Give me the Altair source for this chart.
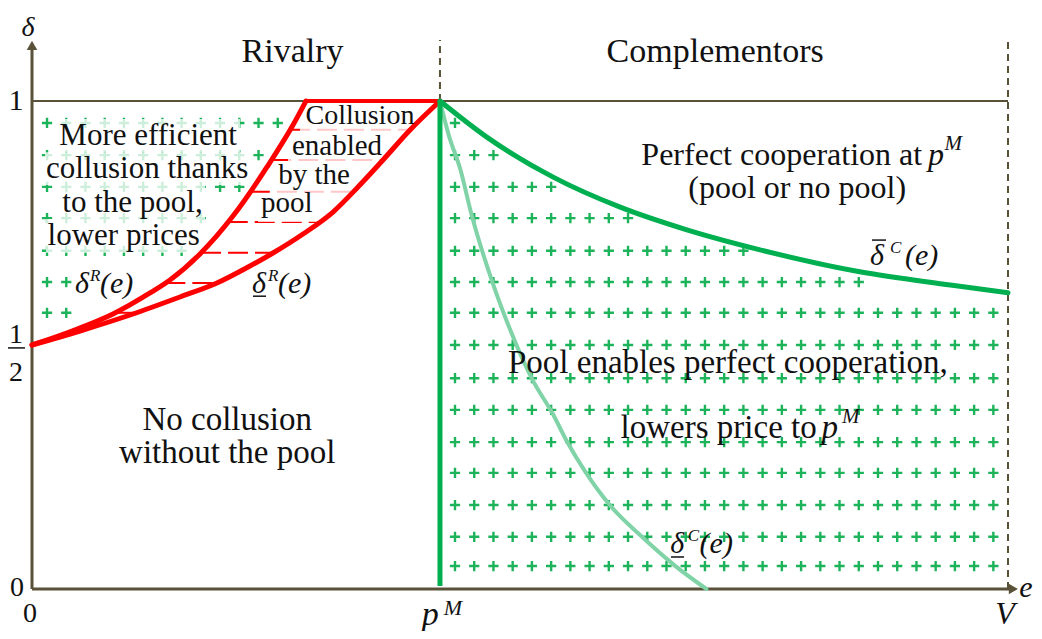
import altair as alt
import pandas as pd
import numpy as np

# ---------------- data (e on [0,V], delta on [0,1]) ----------------
PM = 0.418      # p^M
V = 1.0

rivalry_upper_e = [0, 0.041, 0.083, 0.1209, 0.1414, 0.1721, 0.2059, 0.2408, 0.2674, 0.2807]
rivalry_upper_d = [0.5, 0.5287, 0.5635, 0.6066, 0.6332, 0.6865, 0.7643, 0.8648, 0.9508, 1.0]
rivalry_lower_e = [0, 0.0492, 0.1035, 0.1516, 0.1895, 0.2234, 0.2469, 0.2777, 0.3084,
                   0.3340, 0.3596, 0.3873, 0.418]
rivalry_lower_d = [0.5, 0.5287, 0.5635, 0.5984, 0.6270, 0.6619, 0.6885, 0.7275, 0.7725,
                   0.8238, 0.8791, 0.9406, 1.0]
comp_upper_e = [0.418, 0.466, 0.534, 0.602, 0.671, 0.746, 0.848, 0.941, 1.0]
comp_upper_d = [1.0, 0.926, 0.844, 0.783, 0.736, 0.695, 0.650, 0.623, 0.607]
comp_lower_e = [0.418, 0.427, 0.439, 0.450, 0.471, 0.488, 0.513, 0.533, 0.549,
                0.567, 0.592, 0.625, 0.658, 0.691]
comp_lower_d = [1.0, 0.930, 0.859, 0.770, 0.633, 0.541, 0.428, 0.361, 0.299,
                0.240, 0.172, 0.107, 0.049, 0.0]

plus_rows_d = [0.955, 0.889, 0.824, 0.760, 0.693, 0.629, 0.566, 0.5, 0.432,
               0.367, 0.301, 0.238, 0.172, 0.107, 0.047]
left_counts = [13, 12, 11, 9, 8, 2, 2]
right_counts = [1, 3, 6, 10, 16, 22, 29, 29, 29, 29, 29, 29, 29, 29, 29]
plus_step = 0.0197
left_start = 0.0154
right_start = 0.4334

dash_rows_d = [0.941, 0.879, 0.814, 0.752, 0.689, 0.627, 0.566]

# ---------------- styles ----------------
RED = "#FF0000"
DKGREEN = "#00B050"
LTGREEN = "#7FD3A6"
PLUS = "#1DB35A"
AXIS = "#595238"
INK = "#111111"
FONT = "Liberation Serif"

xs = alt.Scale(domain=[-0.02459, 1.02664], nice=False, zero=False)
ys = alt.Scale(domain=[-0.08607, 1.19057], nice=False, zero=False)


def X(f):
    return alt.X(f, type="quantitative", scale=xs, axis=None)


def Y(f):
    return alt.Y(f, type="quantitative", scale=ys, axis=None)


# ---------------- plus pattern ----------------
prow = []
for d, n in zip(plus_rows_d, left_counts):
    for k in range(n):
        prow.append({"e": left_start + k * plus_step, "d": d})
for d, n in zip(plus_rows_d, right_counts):
    for k in range(n):
        prow.append({"e": right_start + k * plus_step, "d": d})
plus_df = pd.DataFrame(prow)
pluses = alt.Chart(plus_df).mark_point(
    shape="M-1,0L1,0M0,-1L0,1", filled=False, size=105, strokeWidth=2.4,
    color=PLUS, opacity=1
).encode(x=X("e"), y=Y("d"))

# ---------------- red dashes between the rivalry curves ----------------
dash_df = pd.DataFrame({
    "d": dash_rows_d,
    "e1": np.interp(dash_rows_d, rivalry_upper_d, rivalry_upper_e),
    "e2": np.interp(dash_rows_d, rivalry_lower_d, rivalry_lower_e),
})
dashes = alt.Chart(dash_df).mark_rule(
    color=RED, strokeWidth=2, strokeDash=[20, 7]
).encode(x=X("e1"), x2="e2", y=Y("d"))

# ---------------- semi-transparent label boxes ----------------
box_df = pd.DataFrame({
    "e1": [0.0246, 0.0133, 0.0297, 0.0143, 0.2746, 0.2623, 0.2490, 0.2316],
    "e2": [0.2131, 0.2223, 0.1773, 0.1742, 0.3975, 0.3627, 0.3300, 0.2930],
    "d1": [0.963, 0.895, 0.828, 0.758, 0.994, 0.932, 0.873, 0.811],
    "d2": [0.895, 0.828, 0.758, 0.689, 0.932, 0.873, 0.811, 0.752],
})
boxes = alt.Chart(box_df).mark_rect(color="white", opacity=0.78).encode(
    x=X("e1"), x2="e2", y=Y("d1"), y2="d2")

# ---------------- axes and frame lines ----------------
axis_df = pd.DataFrame({
    "e1": [0, 0, 0],
    "e2": [0, 1.006, V],
    "d1": [0, 0, 1],
    "d2": [1.112, 0, 1],
    "w": [3, 3, 2],
})
axes = alt.Chart(axis_df).mark_rule(color=AXIS).encode(
    x=X("e1"), x2="e2", y=Y("d1"), y2="d2",
    strokeWidth=alt.StrokeWidth("w:Q", scale=None))

vdash_df = pd.DataFrame({"e": [PM, V], "d1": [1.0, 0.0], "d2": [1.125, 1.125]})
vdashes = alt.Chart(vdash_df).mark_rule(
    color=AXIS, strokeWidth=2, strokeDash=[7, 5]
).encode(x=X("e"), y=Y("d1"), y2="d2")

arrow_up = alt.Chart(pd.DataFrame({"e": [0], "d": [1.114]})).mark_point(
    shape="triangle-up", filled=True, size=110, color=AXIS, opacity=1
).encode(x=X("e"), y=Y("d"))
arrow_right = alt.Chart(pd.DataFrame({"e": [1.0055], "d": [0]})).mark_point(
    shape="triangle-right", filled=True, size=110, color=AXIS, opacity=1
).encode(x=X("e"), y=Y("d"))


# ---------------- curves ----------------
def curve(es, ds, color, width):
    df = pd.DataFrame({"e": es, "d": ds, "i": range(len(es))})
    return alt.Chart(df).mark_line(
        color=color, strokeWidth=width, interpolate="monotone", strokeCap="round"
    ).encode(x=X("e"), y=Y("d"), order="i:Q")


red_up = curve(rivalry_upper_e, rivalry_upper_d, RED, 5)
red_low = curve(rivalry_lower_e, rivalry_lower_d, RED, 5)
red_top = alt.Chart(pd.DataFrame({"e1": [rivalry_upper_e[-1]], "e2": [PM], "d": [1.0]})).mark_rule(
    color=RED, strokeWidth=4).encode(x=X("e1"), x2="e2", y=Y("d"))
lt_green = curve(comp_lower_e, comp_lower_d, LTGREEN, 4)
dk_green = curve(comp_upper_e, comp_upper_d, DKGREEN, 5)
vert_green = alt.Chart(pd.DataFrame({"e": [PM], "d1": [0.006], "d2": [1.0]})).mark_rule(
    color=DKGREEN, strokeWidth=5).encode(x=X("e"), y=Y("d1"), y2="d2")

# typographic bars: fraction bar of 1/2, under/over-bars of the delta symbols
bars_df = pd.DataFrame({
    "e1": [-0.0266, 0.2264, 0.6547, 0.8607],
    "e2": [-0.0072, 0.2398, 0.6681, 0.8750],
    "d": [0.494, 0.600, 0.0656, 0.715],
})
bars = alt.Chart(bars_df).mark_rule(color=INK, strokeWidth=1.5).encode(
    x=X("e1"), x2="e2", y=Y("d"))

# ---------------- texts ----------------
texts = [
    # (e, delta, text, size, group)  group: c=center, r=right, li=left italic, ci=center italic
    (0.267, 1.080, "Rivalry", 34, "c"),
    (0.700, 1.080, "Complementors", 34, "c"),
    (0.119, 0.910, "More efficient", 31, "c"),
    (0.118, 0.842, "collusion thanks", 31, "c"),
    (0.103, 0.773, "to the pool,", 31, "c"),
    (0.094, 0.705, "lower prices", 31, "c"),
    (0.336, 0.953, "Collusion", 28, "c"),
    (0.3125, 0.889, "enabled", 29, "c"),
    (0.289, 0.830, "by the", 29, "c"),
    (0.261, 0.773, "pool", 29, "c"),
    (0.200, 0.326, "No collusion", 33, "c"),
    (0.200, 0.258, "without the pool", 33, "c"),
    (0.912, 0.869, "Perfect cooperation at", 32, "r"),
    (0.918, 0.869, "p", 32, "li"),
    (0.935, 0.900, "M", 21, "li"),
    (0.784, 0.801, "(pool or no pool)", 32, "c"),
    (0.713, 0.443, "Pool enables perfect cooperation,", 33, "c"),
    (0.804, 0.309, "lowers price to", 33, "r"),
    (0.809, 0.309, "p", 33, "li"),
    (0.830, 0.340, "M", 21, "li"),
    # curve labels
    (0.044, 0.607, "δ", 30, "li"),
    (0.0594, 0.631, "R", 17, "li"),
    (0.0697, 0.607, "(e)", 30, "li"),
    (0.2254, 0.607, "δ", 30, "li"),
    (0.2418, 0.631, "R", 17, "li"),
    (0.2520, 0.607, "(e)", 30, "li"),
    (0.8586, 0.664, "δ", 30, "li"),
    (0.8790, 0.689, "C", 17, "li"),
    (0.8945, 0.664, "(e)", 30, "li"),
    (0.6540, 0.074, "δ", 30, "li"),
    (0.6720, 0.098, "C", 17, "li"),
    (0.6840, 0.074, "(e)", 30, "li"),
    # tick labels and axis names
    (-0.0164, 0.982, "1", 30, "c"),
    (-0.0164, 0.504, "1", 28, "c"),
    (-0.0164, 0.426, "2", 28, "c"),
    (-0.0154, -0.0143, "0", 28, "c"),
    (-0.0020, -0.0676, "0", 28, "c"),
    (-0.0041, 1.1332, "δ", 28, "ci"),
    (1.0184, -0.016, "e", 30, "ci"),
    (0.997, -0.0717, "V", 32, "ci"),
    (0.408, -0.074, "p", 34, "ci"),
    (0.422, -0.054, "M", 22, "li"),
]
text_df = pd.DataFrame(texts, columns=["e", "d", "t", "s", "g"])


def text_layer(group, align, italic):
    df = text_df[text_df["g"] == group]
    kw = dict(align=align, baseline="alphabetic", font=FONT, color=INK)
    if italic:
        kw["fontStyle"] = "italic"
    return alt.Chart(df).mark_text(**kw).encode(
        x=X("e"), y=Y("d"), text="t:N", size=alt.Size("s:Q", scale=None))


t_c = text_layer("c", "center", False)
t_r = text_layer("r", "right", False)
t_li = text_layer("li", "left", True)
t_ci = text_layer("ci", "center", True)

chart = alt.layer(
    pluses, dashes, boxes, axes, vdashes, arrow_up, arrow_right,
    red_top, red_up, red_low, lt_green, vert_green, dk_green, bars,
    t_c, t_r, t_li, t_ci,
).properties(
    width=1026, height=623, padding=0, autosize="none", background="white"
).configure_view(stroke=None)

chart.save("out.html", embed_options={"renderer": "svg", "actions": False})
